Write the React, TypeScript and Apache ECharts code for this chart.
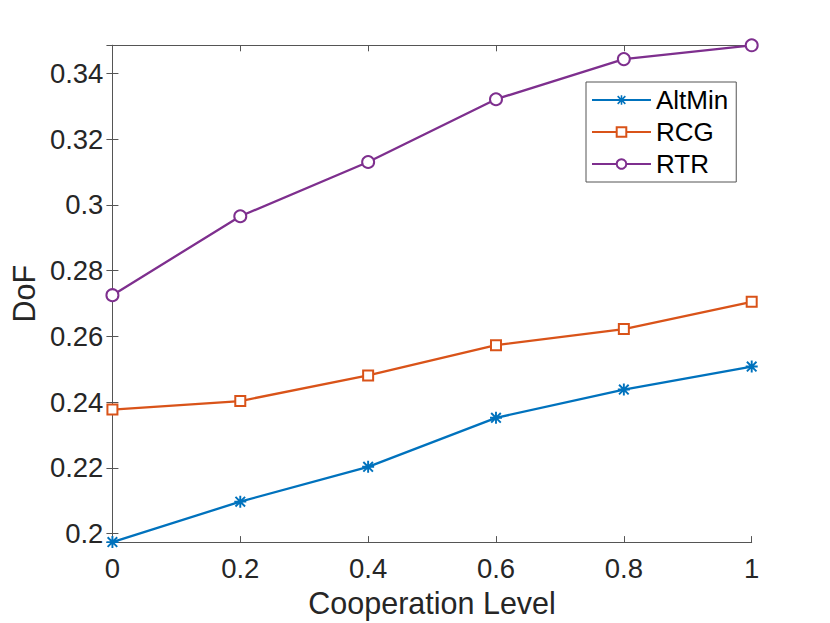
import React, { useEffect, useRef } from "react";
import * as echarts from "echarts";

const xValues = [0, 0.2, 0.4, 0.6, 0.8, 1];
const altMin = [0.1974, 0.2097, 0.2203, 0.2352, 0.2438, 0.2508];
const rcg = [0.2377, 0.2403, 0.2481, 0.2573, 0.2622, 0.2705];
const rtr = [0.2725, 0.2965, 0.313, 0.3321, 0.3443, 0.3485];
const seriesNames = ["AltMin", "RCG", "RTR"];
const colors = ["#0072BD", "#D95319", "#7E2F8E"];
const xTitle = "Cooperation Level";
const yTitle = "DoF";

const Y_MIN = 0.1974;
const Y_MAX = 0.3485;

const asterisk =
  "path://M8.4 0H11.6V20H8.4Z M0 8.4H20V11.6H0Z M3.13 0.87L19.13 16.87L16.87 19.13L0.87 3.13Z M16.87 0.87L19.13 3.13L3.13 19.13L0.87 16.87Z";

const FONT = "'Liberation Sans', Arial, Helvetica, sans-serif";
const TXT = "#262626";
const AX = "#555555";

export default function App() {
  const ref = useRef<HTMLDivElement>(null);
  useEffect(() => {
    if (!ref.current) return;
    const chart = echarts.init(ref.current, null, { renderer: "svg" });
    const toPts = (arr: number[]) => arr.map((v, i) => [xValues[i], v]);
    const common = (i: number) => ({
      type: "line" as const,
      name: seriesNames[i],
      xAxisIndex: 0,
      yAxisIndex: 0,
      lineStyle: { color: colors[i], width: 2.3 },
      itemStyle: { color: colors[i], borderColor: colors[i], borderWidth: 2.2 },
      color: colors[i],
      z: 3 + i,
    });
    chart.setOption({
      animation: false,
      backgroundColor: "#ffffff",
      textStyle: { fontFamily: FONT, color: TXT },
      grid: { left: 107.5, right: 78.3, top: 45.3, bottom: 78.7, containLabel: false },
      legend: {
        data: seriesNames,
        orient: "vertical",
        left: 586,
        top: 82,
        itemWidth: 59,
        itemHeight: 12,
        itemGap: 6,
        padding: [5, 8, 5, 5],
        borderColor: AX,
        borderWidth: 1,
        backgroundColor: "#ffffff",
        textStyle: { fontFamily: FONT, fontSize: 26, color: "#000000", lineHeight: 25 },
      },
      xAxis: [
        {
          type: "value",
          min: 0,
          max: 1,
          interval: 0.2,
          name: xTitle,
          nameLocation: "middle",
          nameGap: 43,
          nameTextStyle: { fontFamily: FONT, fontSize: 30.5, color: TXT },
          axisLine: { show: true, lineStyle: { color: AX, width: 1 } },
          axisTick: { show: true, inside: true, length: 6, lineStyle: { color: AX } },
          axisLabel: {
            fontFamily: FONT,
            fontSize: 27.5,
            color: TXT,
            margin: 12,
            formatter: (v: number) => String(Math.round(v * 10) / 10),
          },
          splitLine: { show: false },
        },
        {
          type: "value",
          position: "top",
          min: 0,
          max: 1,
          interval: 0.2,
          axisLine: { show: true, lineStyle: { color: AX, width: 1 } },
          axisTick: { show: true, inside: true, length: 6, lineStyle: { color: AX } },
          axisLabel: { show: false },
          splitLine: { show: false },
        },
      ],
      yAxis: [
        {
          type: "value",
          min: Y_MIN,
          max: Y_MAX,
          splitNumber: 8,
          name: yTitle,
          nameLocation: "middle",
          nameGap: 73,
          nameTextStyle: { fontFamily: FONT, fontSize: 30.5, color: TXT },
          axisLine: { show: true, lineStyle: { color: AX, width: 1 } },
          axisTick: { show: true, inside: true, length: 6, lineStyle: { color: AX } },
          axisLabel: {
            fontFamily: FONT,
            fontSize: 27.5,
            color: TXT,
            margin: 9,
            showMinLabel: false,
            showMaxLabel: false,
            formatter: (v: number) => String(Math.round(v * 100) / 100),
          },
          splitLine: { show: false },
        },
        {
          type: "value",
          position: "right",
          min: Y_MIN,
          max: Y_MAX,
          splitNumber: 8,
          axisLine: { show: true, lineStyle: { color: AX, width: 1 } },
          axisTick: { show: true, inside: true, length: 6, lineStyle: { color: AX } },
          axisLabel: { show: false },
          splitLine: { show: false },
        },
      ],
      series: [
        { ...common(0), data: toPts(altMin), symbol: asterisk, symbolSize: 12, itemStyle: { color: colors[0], borderWidth: 0 } },
        { ...common(1), data: toPts(rcg), symbol: "emptyRect", symbolSize: 10 },
        { ...common(2), data: toPts(rtr), symbol: "emptyCircle", symbolSize: 12 },
      ],
    });
    return () => chart.dispose();
  }, []);
  return (
    <div
      ref={ref}
      style={{ position: "fixed", left: 0, top: 0, width: 830, height: 623, background: "#fff" }}
    />
  );
}
